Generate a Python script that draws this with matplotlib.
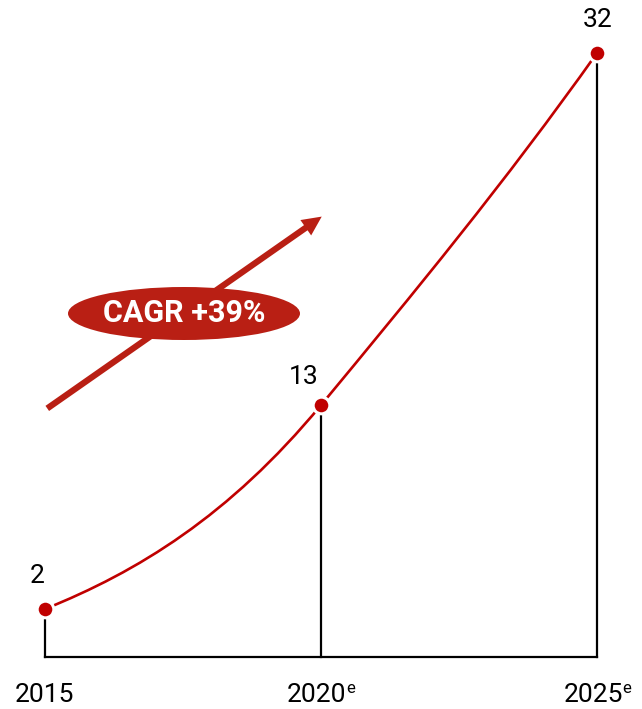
import matplotlib
matplotlib.use("Agg")
import matplotlib.pyplot as plt
from matplotlib.path import Path
from matplotlib.patches import PathPatch, Ellipse, FancyArrowPatch

years = [2015, 2020, 2025]
values = [2, 13, 32]
year_labels = ["2015", "2020", "2025"]
estimated = [False, True, True]
slopes = [1.2, 3.6, 4.2]  # curve tangents (units/year) for the smooth line
cagr_text = "CAGR +39%"

RED = "#C00000"
DARK_RED = "#B91F14"
W, H = 642, 709

plt.rcParams['font.family'] = ['Roboto', 'DejaVu Sans']
fig = plt.figure(figsize=(W / 100, H / 100), dpi=100)
ax = fig.add_axes([0, 0, 1, 1])
ax.set_xlim(2014.185, 2025.815)
ax.set_ylim(-3.396, 34.86)
ax.axis("off")

base = -0.59
# baseline and vertical drop lines
ax.plot([years[0], years[-1]], [base, base], color="black", lw=1.6, solid_capstyle="projecting", zorder=1)
for x, v in zip(years, values):
    ax.plot([x, x], [base, v], color="black", lw=1.6, zorder=1)

# smooth curve through data via cubic Bezier segments
verts = [(years[0], values[0])]
codes = [Path.MOVETO]
for i in range(len(years) - 1):
    h = years[i + 1] - years[i]
    verts += [(years[i] + h / 3, values[i] + slopes[i] * h / 3),
              (years[i + 1] - h / 3, values[i + 1] - slopes[i + 1] * h / 3),
              (years[i + 1], values[i + 1])]
    codes += [Path.CURVE4] * 3
ax.add_patch(PathPatch(Path(verts, codes), facecolor="none", edgecolor=RED, lw=1.9, zorder=2))

ax.plot(years, values, linestyle="none", marker="o", markersize=12, markerfacecolor=RED,
        markeredgecolor="white", markeredgewidth=2.2, zorder=3)

# value labels
offsets = [(-8, 21), (-17, 16), (1, 21)]
for (x, v), (dx, dy) in zip(zip(years, values), offsets):
    ax.annotate(str(v), (x, v), xytext=(dx, dy), textcoords="offset pixels",
                ha="center", va="bottom", fontsize=19, color="black")

# x labels
for x, lab, est in zip(years, year_labels, estimated):
    ax.annotate(lab, (x, base), xytext=(-1 if not est else -4, -26), textcoords="offset pixels",
                ha="center", va="top", fontsize=19, color="black")
    if est:
        ax.annotate("e", (x, base), xytext=(30, -24), textcoords="offset pixels",
                    ha="center", va="top", fontsize=12, color="black")

# CAGR arrow and ellipse
arr = FancyArrowPatch((45 / W, 1 - 410 / H), (324 / W, 1 - 215 / H), transform=ax.transAxes,
                      arrowstyle="simple,head_length=1.4,head_width=1.35,tail_width=0.45",
                      mutation_scale=10, color=DARK_RED, lw=0, zorder=4)
ax.add_patch(arr)
ax.add_patch(Ellipse((184 / W, 1 - 313.5 / H), 232 / W, 53 / H, transform=ax.transAxes,
                     facecolor=DARK_RED, edgecolor="none", zorder=5))
ax.text(184 / W, 1 - 313.5 / H, cagr_text, transform=ax.transAxes, ha="center", va="center",
        fontsize=22, fontweight="bold", color="white", zorder=6)

fig.savefig("out.png", dpi=100)
